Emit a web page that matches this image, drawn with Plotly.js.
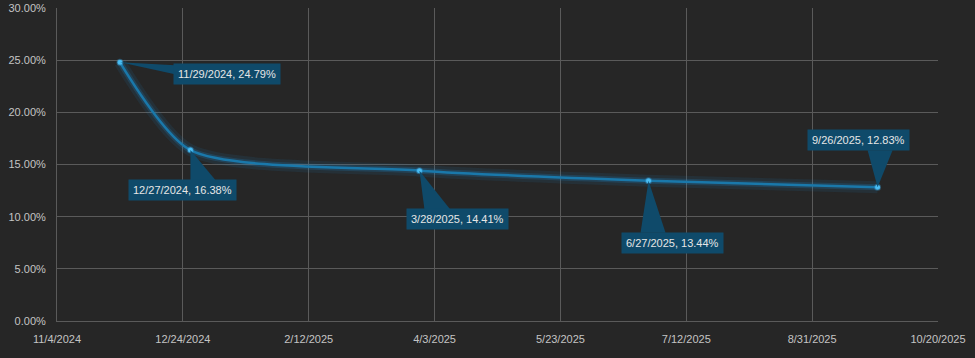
<!DOCTYPE html>
<html>
<head>
<meta charset="utf-8">
<script src="https://cdn.plot.ly/plotly-3.0.1.min.js"></script>
<style>
html,body{margin:0;padding:0;background:#262626;}
#chart{width:975px;height:358px;}
</style>
</head>
<body>
<div id="chart"></div>
<script>
// Data
const dates = ['2024-11-29', '2024-12-27', '2025-03-28', '2025-06-27', '2025-09-26'];
const dateLabels = ['11/29/2024', '12/27/2024', '3/28/2025', '6/27/2025', '9/26/2025'];
const values = [0.2479, 0.1638, 0.1441, 0.1344, 0.1283];

// Callout placement (pixels relative to point): label centre and wedge base
const labelShift = [[107, -12], [-8, -40], [38, -48], [24, -62], [-19, 47]];
const wedgeBase = [[[55, -3], [55, -12]], [[0, -30], [25, -30]], [[5, -39], [31, -39]], [[-8, -52], [17, -52]], [[-10, 37], [15, 37]]];

const lineColor = '#1a78aa';
const boxColor = '#0f4a6a';
const smooth = 0.7;

const traces = [
  {x: dates, y: values, type: 'scatter', mode: 'lines', line: {shape: 'spline', smoothing: smooth, color: 'rgba(30,140,210,0.10)', width: 12}, hoverinfo: 'skip', showlegend: false},
  {x: dates, y: values, type: 'scatter', mode: 'lines', line: {shape: 'spline', smoothing: smooth, color: 'rgba(30,140,210,0.20)', width: 6}, hoverinfo: 'skip', showlegend: false},
  {x: dates, y: values, type: 'scatter', mode: 'lines+markers', line: {shape: 'spline', smoothing: smooth, color: lineColor, width: 2.5},
   marker: {size: 5, color: '#4cc0f5', line: {width: 2, color: 'rgba(60,170,230,0.35)'}}, showlegend: false}
];

const shapes = dates.map((d, i) => ({
  type: 'path', xref: 'x', yref: 'y', xsizemode: 'pixel', ysizemode: 'pixel',
  xanchor: d, yanchor: values[i],
  path: `M0,0 L${wedgeBase[i][0][0]},${wedgeBase[i][0][1]} L${wedgeBase[i][1][0]},${wedgeBase[i][1][1]} Z`,
  fillcolor: boxColor, line: {width: 0}, layer: 'above'
}));

const annotations = dates.map((d, i) => ({
  x: d, y: values[i], xref: 'x', yref: 'y', showarrow: false,
  xshift: labelShift[i][0], yshift: labelShift[i][1],
  text: dateLabels[i] + ', ' + (values[i] * 100).toFixed(2) + '%',
  bgcolor: boxColor, borderpad: 4, font: {family: 'Liberation Sans, Arial, sans-serif', size: 11, color: '#e6e6e6'}
}));

const layout = {
  width: 975, height: 358,
  paper_bgcolor: '#262626', plot_bgcolor: '#262626',
  margin: {l: 57, r: 37, t: 8, b: 37},
  font: {family: 'Liberation Sans, Arial, sans-serif', size: 11, color: '#c4c4c4'},
  xaxis: {
    type: 'date', range: ['2024-11-04', '2025-10-20'],
    tick0: '2024-11-04', dtick: 50 * 86400000, tickformat: '%-m/%-d/%Y',
    showgrid: true, gridcolor: '#5a5a5a', gridwidth: 1, zeroline: false,
    showline: true, linecolor: '#5a5a5a', ticks: '', ticklabelstandoff: 8, fixedrange: true
  },
  yaxis: {
    range: [0, 0.30], dtick: 0.05, tickformat: '.2%',
    showgrid: true, gridcolor: '#5a5a5a', gridwidth: 1, zeroline: false,
    showline: true, linecolor: '#5a5a5a', ticks: '', ticklabelstandoff: 8, fixedrange: true
  },
  shapes: shapes,
  annotations: annotations,
  showlegend: false
};

Plotly.newPlot('chart', traces, layout, {displayModeBar: false, staticPlot: true});
</script>
</body>
</html>
